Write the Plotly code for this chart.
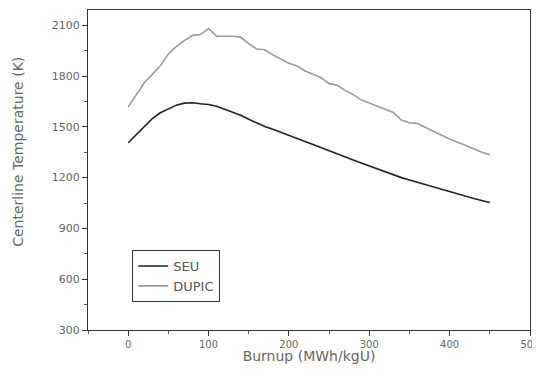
import plotly.graph_objects as go

burnup = list(range(0, 451, 10))
seu = [1406, 1455, 1505, 1548, 1583, 1608, 1628, 1640, 1642, 1636,
       1632, 1622, 1605, 1587, 1568, 1545, 1522, 1502, 1485, 1468,
       1450, 1432, 1414, 1395, 1376, 1358, 1340, 1322, 1304, 1286,
       1268, 1250, 1232, 1215, 1200, 1186, 1172, 1158, 1145, 1133,
       1115, 1102, 1090, 1077, 1065, 1053]
dupic = [1618, 1690, 1760, 1810, 1860, 1930, 1975, 2010, 2040, 2045,
         2080, 2035, 2035, 2035, 2030, 1990, 1960, 1955, 1925, 1900,
         1875, 1860, 1830, 1810, 1790, 1755, 1745, 1715, 1690, 1659,
         1640, 1620, 1600, 1585, 1540, 1524, 1520, 1495, 1475, 1450,
         1428, 1410, 1390, 1370, 1350, 1335]
x_ticks = [0, 100, 200, 300, 400, 500]
y_ticks = [300, 600, 900, 1200, 1500, 1800, 2100]

FONT = "DejaVu Sans, Liberation Sans, Arial"

fig = go.Figure()
fig.add_trace(go.Scatter(x=burnup, y=seu, mode="lines", name="SEU",
                         line=dict(color="#222222", width=1.6)))
fig.add_trace(go.Scatter(x=burnup, y=dupic, mode="lines", name="DUPIC",
                         line=dict(color="#9a9a9a", width=1.6)))

axis_common = dict(showgrid=False, zeroline=False, showline=True,
                   linecolor="#333333", linewidth=1.2, mirror=True,
                   ticks="outside", ticklen=5, tickcolor="#333333",
                   automargin=False, ticklabeloverflow="allow",
                   minor=dict(ticks="outside", ticklen=3, tickcolor="#555555"))

fig.update_xaxes(range=[-50, 500], tickvals=x_ticks,
                 minor_dtick=50,
                 tickfont=dict(family=FONT, size=10, color="#666666"),
                 title=dict(text="Burnup (MWh/kgU)", standoff=8,
                            font=dict(family=FONT, size=14, color="#666666")),
                 **axis_common)
fig.update_yaxes(range=[300, 2190], tickvals=y_ticks,
                 minor_dtick=150,
                 tickfont=dict(family=FONT, size=11, color="#666666"),
                 **axis_common)

fig.add_annotation(text="Centerline Temperature (K)", textangle=-90,
                   xref="paper", yref="paper", x=-0.159, y=0.556,
                   xanchor="center", yanchor="middle", showarrow=False,
                   font=dict(family=FONT, size=14, color="#666666"))

fig.update_layout(
    width=532, height=356,
    margin=dict(l=80, r=10, t=2, b=34),
    paper_bgcolor="white", plot_bgcolor="white",
    legend=dict(x=0.1, y=0.25, xanchor="left", yanchor="top",
                bgcolor="white", bordercolor="#333333", borderwidth=1,
                font=dict(family=FONT, size=13, color="#555555"),
                tracegroupgap=0, itemwidth=30),
    showlegend=True,
)

fig.write_html("out.html")
